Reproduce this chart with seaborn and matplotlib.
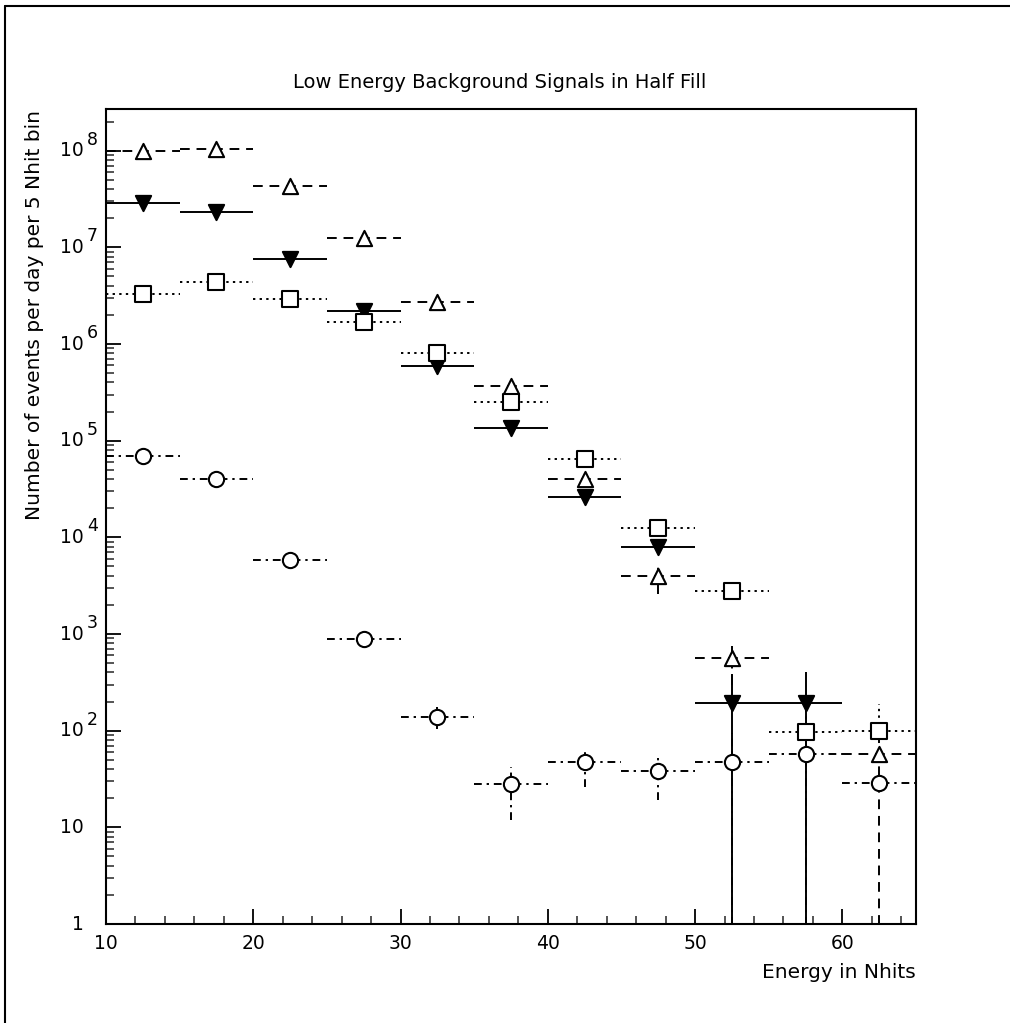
import numpy as np
import pandas as pd
import matplotlib
matplotlib.use("Agg")
import matplotlib.pyplot as plt
import matplotlib.transforms as mtransforms
from matplotlib.lines import Line2D
from matplotlib.ticker import FixedLocator, NullFormatter, LogLocator, MultipleLocator
import seaborn as sns

# ---------------- data ----------------
bin_centers = [12.5, 17.5, 22.5, 27.5, 32.5, 37.5, 42.5, 47.5, 52.5, 57.5, 62.5]
bin_halfwidth = 2.5

# open triangles (dashed)
tri_open = [1.0e8, 1.05e8, 4.3e7, 1.25e7, 2.7e6, 3.7e5, 4.0e4, 4.0e3, 560, np.nan, 57]
tri_open_lo = [1.0e8, 1.05e8, 4.3e7, 1.25e7, 2.7e6, 3.7e5, 4.0e4, 2.6e3, 300, np.nan, 1e-3]
tri_open_hi = [1.0e8, 1.05e8, 4.3e7, 1.25e7, 2.7e6, 3.7e5, 4.0e4, 4.9e3, 750, np.nan, 110]

# filled down triangles (solid)
tri_fill = [2.9e7, 2.3e7, 7.6e6, 2.2e6, 5.9e5, 1.36e5, 2.6e4, 7.9e3, 195, 195, np.nan]
tri_fill_lo = [2.9e7, 2.3e7, 7.6e6, 2.2e6, 5.9e5, 1.36e5, 2.6e4, 7.9e3, 1e-3, 1e-3, np.nan]
tri_fill_hi = [2.9e7, 2.3e7, 7.6e6, 2.2e6, 5.9e5, 1.36e5, 2.6e4, 7.9e3, 390, 400, np.nan]

# open squares (dotted)
squares = [3.3e6, 4.4e6, 2.9e6, 1.7e6, 8.0e5, 2.5e5, 6.5e4, 1.26e4, 2.8e3, 97, 100]
squares_lo = [3.3e6, 4.4e6, 2.9e6, 1.7e6, 8.0e5, 2.5e5, 6.5e4, 1.26e4, 2.8e3, 97, 100]
squares_hi = [3.3e6, 4.4e6, 2.9e6, 1.7e6, 8.0e5, 2.5e5, 6.5e4, 1.26e4, 2.8e3, 190, 190]

# open circles (dash-dot)
circles = [7.0e4, 4.0e4, 5.8e3, 890, 137, 28, 47, 38, 47, 57, 29]
circles_lo = [7.0e4, 4.0e4, 5.8e3, 890, 103, 12, 26, 19, 1e-3, 1e-3, 29]
circles_hi = [7.0e4, 4.0e4, 5.8e3, 890, 175, 42, 64, 52, 94, 110, 29]

y_tick_values = [1, 10, 1e2, 1e3, 1e4, 1e5, 1e6, 1e7, 1e8]
y_tick_base = ["1", "10", "10", "10", "10", "10", "10", "10", "10"]
y_tick_exp = ["", "", "2", "3", "4", "5", "6", "7", "8"]
x_tick_values = [10, 20, 30, 40, 50, 60]

title = "Low Energy Background Signals in Half Fill"
xlabel = "Energy in Nhits"
ylabel = "Number of events per day per 5 Nhit bin"

# ---------------- style ----------------
sns.set_theme(style="white")
plt.rcParams['font.family'] = ['DejaVu Sans']

fig = plt.figure(figsize=(10.10, 10.23), dpi=100)
ax = fig.add_axes([106/1010, 1-924/1023, (916-106)/1010, (924-109)/1023])

series = [
    (tri_open, tri_open_lo, tri_open_hi, '^', 'white', (0, (5, 3.5))),
    (tri_fill, tri_fill_lo, tri_fill_hi, 'v', 'black', '-'),
    (squares, squares_lo, squares_hi, 's', 'white', (0, (1.2, 2.2))),
    (circles, circles_lo, circles_hi, 'o', 'white', (0, (4, 2.5, 1.2, 2.5))),
]

x = np.array(bin_centers)
for vals, lo, hi, mk, fc, ls in series:
    v = np.array(vals, dtype=float)
    lo = np.array(lo, dtype=float)
    hi = np.array(hi, dtype=float)
    yerr = np.vstack([v - lo, hi - v])
    cont = ax.errorbar(x, v, xerr=bin_halfwidth, yerr=yerr, fmt='none',
                       ecolor='black', elinewidth=1.4, capsize=0, zorder=2)
    for lc in cont[2]:
        lc.set_linestyle(ls)
    df = pd.DataFrame({"x": x, "y": v}).dropna()
    sns.scatterplot(data=df, x="x", y="y", marker=mk, s=120, color=fc,
                    edgecolor='black', linewidth=1.5, ax=ax, zorder=3, legend=False)

ax.set_yscale('log')
ax.set_xlim(10, 65)
ax.set_ylim(1, 2.7e8)

ax.yaxis.set_major_locator(FixedLocator(y_tick_values))
ax.yaxis.set_major_formatter(NullFormatter())
ax.yaxis.set_minor_locator(LogLocator(base=10, subs=np.arange(2, 10), numticks=20))
ax.yaxis.set_minor_formatter(NullFormatter())
ax.xaxis.set_major_locator(FixedLocator(x_tick_values))
ax.xaxis.set_minor_locator(MultipleLocator(2))

ax.tick_params(axis='both', which='major', direction='in', length=11, width=1.3,
               labelsize=13.5, colors='black', left=True, bottom=True, top=False, right=False)
ax.tick_params(axis='both', which='minor', direction='in', length=6, width=1.1,
               left=True, bottom=True, top=False, right=False)
ax.tick_params(axis='x', which='major', pad=7)

for sp in ax.spines.values():
    sp.set_visible(True)
    sp.set_color('black')
    sp.set_linewidth(1.5)

ax.set_xlabel("")
ax.set_ylabel("")

# y tick labels: "10" with a large raised exponent
ytrans = mtransforms.blended_transform_factory(fig.transFigure, ax.transData)
sup_off = mtransforms.ScaledTranslation(0, 8/72, fig.dpi_scale_trans)
for val, base, ex in zip(y_tick_values, y_tick_base, y_tick_exp):
    ax.text(84/1010, val, base, transform=ytrans, ha='right', va='center',
            fontsize=13.5, color='black', clip_on=False)
    if ex:
        ax.text(87/1010, val, ex, transform=ytrans + sup_off, ha='left', va='center',
                fontsize=12.5, color='black', clip_on=False)

fig.text(500/1010, 1-82/1023, title, ha='center', va='center', fontsize=14, color='black')
fig.text(916/1010, 1-972/1023, xlabel, ha='right', va='center', fontsize=14.5, color='black')
fig.text(35/1010, 1-110/1023, ylabel, ha='center', va='top', rotation=90, fontsize=14.5, color='black')

# page frame (left and top)
fig.add_artist(Line2D([5/1010, 5/1010], [0, 1-6/1023], transform=fig.transFigure, color='black', lw=1.5))
fig.add_artist(Line2D([5/1010, 1], [1-6/1023, 1-6/1023], transform=fig.transFigure, color='black', lw=1.5))

fig.savefig("out.png", dpi=100)
